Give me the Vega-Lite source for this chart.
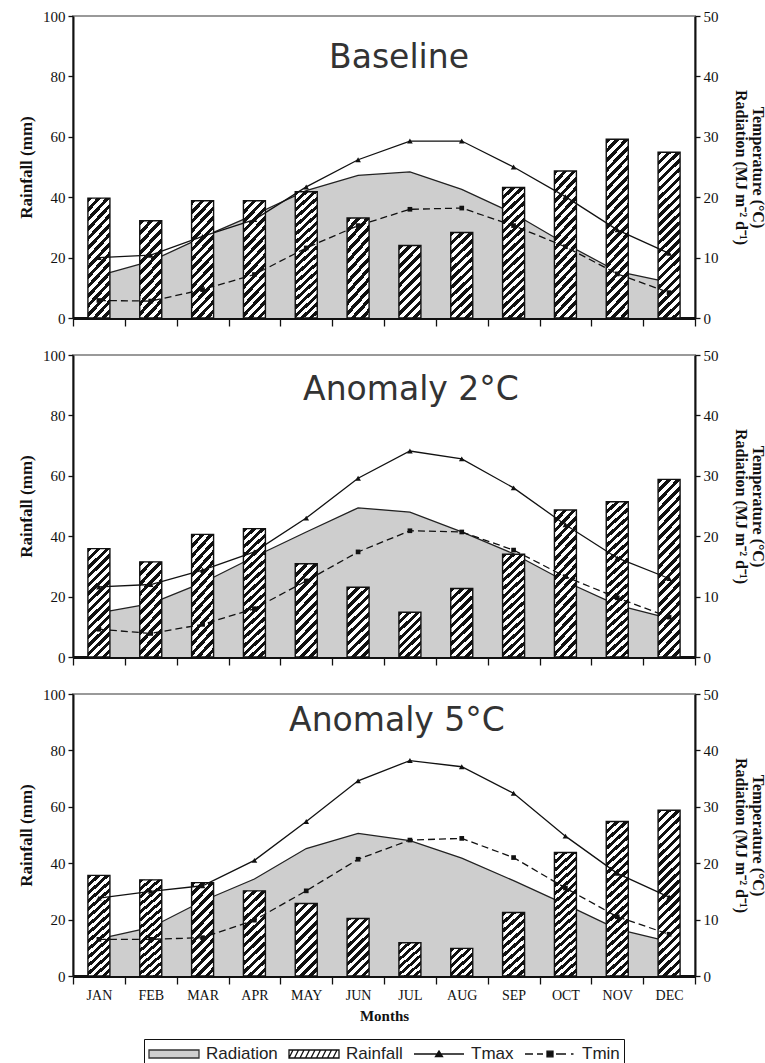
{
"$schema":"https://vega.github.io/schema/vega-lite/v6.json",
"padding":{"left":16,"top":8,"right":0,"bottom":0},
"background":"white",
"params":[
 {"name":"h10","value":{"gradient":"linear","x1":0,"y1":0,"x2":0.8266,"y2":1.127,"stops":[{"offset":0,"color":"#111"},{"offset":0.0833,"color":"#111"},{"offset":0.0833,"color":"#fff"},{"offset":0.1667,"color":"#fff"},{"offset":0.1667,"color":"#111"},{"offset":0.25,"color":"#111"},{"offset":0.25,"color":"#fff"},{"offset":0.3333,"color":"#fff"},{"offset":0.3333,"color":"#111"},{"offset":0.4167,"color":"#111"},{"offset":0.4167,"color":"#fff"},{"offset":0.5,"color":"#fff"},{"offset":0.5,"color":"#111"},{"offset":0.5833,"color":"#111"},{"offset":0.5833,"color":"#fff"},{"offset":0.6667,"color":"#fff"},{"offset":0.6667,"color":"#111"},{"offset":0.75,"color":"#111"},{"offset":0.75,"color":"#fff"},{"offset":0.8333,"color":"#fff"},{"offset":0.8333,"color":"#111"},{"offset":0.9167,"color":"#111"},{"offset":0.9167,"color":"#fff"},{"offset":1,"color":"#fff"}]}},
 {"name":"h12","value":{"gradient":"linear","x1":0,"y1":0,"x2":0.6926,"y2":1.1806,"stops":[{"offset":0,"color":"#111"},{"offset":0.0714,"color":"#111"},{"offset":0.0714,"color":"#fff"},{"offset":0.1429,"color":"#fff"},{"offset":0.1429,"color":"#111"},{"offset":0.2143,"color":"#111"},{"offset":0.2143,"color":"#fff"},{"offset":0.2857,"color":"#fff"},{"offset":0.2857,"color":"#111"},{"offset":0.3571,"color":"#111"},{"offset":0.3571,"color":"#fff"},{"offset":0.4286,"color":"#fff"},{"offset":0.4286,"color":"#111"},{"offset":0.5,"color":"#111"},{"offset":0.5,"color":"#fff"},{"offset":0.5714,"color":"#fff"},{"offset":0.5714,"color":"#111"},{"offset":0.6429,"color":"#111"},{"offset":0.6429,"color":"#fff"},{"offset":0.7143,"color":"#fff"},{"offset":0.7143,"color":"#111"},{"offset":0.7857,"color":"#111"},{"offset":0.7857,"color":"#fff"},{"offset":0.8571,"color":"#fff"},{"offset":0.8571,"color":"#111"},{"offset":0.9286,"color":"#111"},{"offset":0.9286,"color":"#fff"},{"offset":1,"color":"#fff"}]}},
 {"name":"h15","value":{"gradient":"linear","x1":0,"y1":0,"x2":0.5695,"y2":1.2038,"stops":[{"offset":0,"color":"#111"},{"offset":0.0625,"color":"#111"},{"offset":0.0625,"color":"#fff"},{"offset":0.125,"color":"#fff"},{"offset":0.125,"color":"#111"},{"offset":0.1875,"color":"#111"},{"offset":0.1875,"color":"#fff"},{"offset":0.25,"color":"#fff"},{"offset":0.25,"color":"#111"},{"offset":0.3125,"color":"#111"},{"offset":0.3125,"color":"#fff"},{"offset":0.375,"color":"#fff"},{"offset":0.375,"color":"#111"},{"offset":0.4375,"color":"#111"},{"offset":0.4375,"color":"#fff"},{"offset":0.5,"color":"#fff"},{"offset":0.5,"color":"#111"},{"offset":0.5625,"color":"#111"},{"offset":0.5625,"color":"#fff"},{"offset":0.625,"color":"#fff"},{"offset":0.625,"color":"#111"},{"offset":0.6875,"color":"#111"},{"offset":0.6875,"color":"#fff"},{"offset":0.75,"color":"#fff"},{"offset":0.75,"color":"#111"},{"offset":0.8125,"color":"#111"},{"offset":0.8125,"color":"#fff"},{"offset":0.875,"color":"#fff"},{"offset":0.875,"color":"#111"},{"offset":0.9375,"color":"#111"},{"offset":0.9375,"color":"#fff"},{"offset":1,"color":"#fff"}]}},
 {"name":"h19","value":{"gradient":"linear","x1":0,"y1":0,"x2":0.4534,"y2":1.2056,"stops":[{"offset":0,"color":"#111"},{"offset":0.0556,"color":"#111"},{"offset":0.0556,"color":"#fff"},{"offset":0.1111,"color":"#fff"},{"offset":0.1111,"color":"#111"},{"offset":0.1667,"color":"#111"},{"offset":0.1667,"color":"#fff"},{"offset":0.2222,"color":"#fff"},{"offset":0.2222,"color":"#111"},{"offset":0.2778,"color":"#111"},{"offset":0.2778,"color":"#fff"},{"offset":0.3333,"color":"#fff"},{"offset":0.3333,"color":"#111"},{"offset":0.3889,"color":"#111"},{"offset":0.3889,"color":"#fff"},{"offset":0.4444,"color":"#fff"},{"offset":0.4444,"color":"#111"},{"offset":0.5,"color":"#111"},{"offset":0.5,"color":"#fff"},{"offset":0.5556,"color":"#fff"},{"offset":0.5556,"color":"#111"},{"offset":0.6111,"color":"#111"},{"offset":0.6111,"color":"#fff"},{"offset":0.6667,"color":"#fff"},{"offset":0.6667,"color":"#111"},{"offset":0.7222,"color":"#111"},{"offset":0.7222,"color":"#fff"},{"offset":0.7778,"color":"#fff"},{"offset":0.7778,"color":"#111"},{"offset":0.8333,"color":"#111"},{"offset":0.8333,"color":"#fff"},{"offset":0.8889,"color":"#fff"},{"offset":0.8889,"color":"#111"},{"offset":0.9444,"color":"#111"},{"offset":0.9444,"color":"#fff"},{"offset":1,"color":"#fff"}]}},
 {"name":"h24","value":{"gradient":"linear","x1":0,"y1":0,"x2":0.3649,"y2":1.1941,"stops":[{"offset":0,"color":"#111"},{"offset":0.05,"color":"#111"},{"offset":0.05,"color":"#fff"},{"offset":0.1,"color":"#fff"},{"offset":0.1,"color":"#111"},{"offset":0.15,"color":"#111"},{"offset":0.15,"color":"#fff"},{"offset":0.2,"color":"#fff"},{"offset":0.2,"color":"#111"},{"offset":0.25,"color":"#111"},{"offset":0.25,"color":"#fff"},{"offset":0.3,"color":"#fff"},{"offset":0.3,"color":"#111"},{"offset":0.35,"color":"#111"},{"offset":0.35,"color":"#fff"},{"offset":0.4,"color":"#fff"},{"offset":0.4,"color":"#111"},{"offset":0.45,"color":"#111"},{"offset":0.45,"color":"#fff"},{"offset":0.5,"color":"#fff"},{"offset":0.5,"color":"#111"},{"offset":0.55,"color":"#111"},{"offset":0.55,"color":"#fff"},{"offset":0.6,"color":"#fff"},{"offset":0.6,"color":"#111"},{"offset":0.65,"color":"#111"},{"offset":0.65,"color":"#fff"},{"offset":0.7,"color":"#fff"},{"offset":0.7,"color":"#111"},{"offset":0.75,"color":"#111"},{"offset":0.75,"color":"#fff"},{"offset":0.8,"color":"#fff"},{"offset":0.8,"color":"#111"},{"offset":0.85,"color":"#111"},{"offset":0.85,"color":"#fff"},{"offset":0.9,"color":"#fff"},{"offset":0.9,"color":"#111"},{"offset":0.95,"color":"#111"},{"offset":0.95,"color":"#fff"},{"offset":1,"color":"#fff"}]}},
 {"name":"h30","value":{"gradient":"linear","x1":0,"y1":0,"x2":0.287,"y2":1.1743,"stops":[{"offset":0,"color":"#111"},{"offset":0.0417,"color":"#111"},{"offset":0.0417,"color":"#fff"},{"offset":0.0833,"color":"#fff"},{"offset":0.0833,"color":"#111"},{"offset":0.125,"color":"#111"},{"offset":0.125,"color":"#fff"},{"offset":0.1667,"color":"#fff"},{"offset":0.1667,"color":"#111"},{"offset":0.2083,"color":"#111"},{"offset":0.2083,"color":"#fff"},{"offset":0.25,"color":"#fff"},{"offset":0.25,"color":"#111"},{"offset":0.2917,"color":"#111"},{"offset":0.2917,"color":"#fff"},{"offset":0.3333,"color":"#fff"},{"offset":0.3333,"color":"#111"},{"offset":0.375,"color":"#111"},{"offset":0.375,"color":"#fff"},{"offset":0.4167,"color":"#fff"},{"offset":0.4167,"color":"#111"},{"offset":0.4583,"color":"#111"},{"offset":0.4583,"color":"#fff"},{"offset":0.5,"color":"#fff"},{"offset":0.5,"color":"#111"},{"offset":0.5417,"color":"#111"},{"offset":0.5417,"color":"#fff"},{"offset":0.5833,"color":"#fff"},{"offset":0.5833,"color":"#111"},{"offset":0.625,"color":"#111"},{"offset":0.625,"color":"#fff"},{"offset":0.6667,"color":"#fff"},{"offset":0.6667,"color":"#111"},{"offset":0.7083,"color":"#111"},{"offset":0.7083,"color":"#fff"},{"offset":0.75,"color":"#fff"},{"offset":0.75,"color":"#111"},{"offset":0.7917,"color":"#111"},{"offset":0.7917,"color":"#fff"},{"offset":0.8333,"color":"#fff"},{"offset":0.8333,"color":"#111"},{"offset":0.875,"color":"#111"},{"offset":0.875,"color":"#fff"},{"offset":0.9167,"color":"#fff"},{"offset":0.9167,"color":"#111"},{"offset":0.9583,"color":"#111"},{"offset":0.9583,"color":"#fff"},{"offset":1,"color":"#fff"}]}},
 {"name":"h37","value":{"gradient":"linear","x1":0,"y1":0,"x2":0.2285,"y2":1.1529,"stops":[{"offset":0,"color":"#111"},{"offset":0.0333,"color":"#111"},{"offset":0.0333,"color":"#fff"},{"offset":0.0667,"color":"#fff"},{"offset":0.0667,"color":"#111"},{"offset":0.1,"color":"#111"},{"offset":0.1,"color":"#fff"},{"offset":0.1333,"color":"#fff"},{"offset":0.1333,"color":"#111"},{"offset":0.1667,"color":"#111"},{"offset":0.1667,"color":"#fff"},{"offset":0.2,"color":"#fff"},{"offset":0.2,"color":"#111"},{"offset":0.2333,"color":"#111"},{"offset":0.2333,"color":"#fff"},{"offset":0.2667,"color":"#fff"},{"offset":0.2667,"color":"#111"},{"offset":0.3,"color":"#111"},{"offset":0.3,"color":"#fff"},{"offset":0.3333,"color":"#fff"},{"offset":0.3333,"color":"#111"},{"offset":0.3667,"color":"#111"},{"offset":0.3667,"color":"#fff"},{"offset":0.4,"color":"#fff"},{"offset":0.4,"color":"#111"},{"offset":0.4333,"color":"#111"},{"offset":0.4333,"color":"#fff"},{"offset":0.4667,"color":"#fff"},{"offset":0.4667,"color":"#111"},{"offset":0.5,"color":"#111"},{"offset":0.5,"color":"#fff"},{"offset":0.5333,"color":"#fff"},{"offset":0.5333,"color":"#111"},{"offset":0.5667,"color":"#111"},{"offset":0.5667,"color":"#fff"},{"offset":0.6,"color":"#fff"},{"offset":0.6,"color":"#111"},{"offset":0.6333,"color":"#111"},{"offset":0.6333,"color":"#fff"},{"offset":0.6667,"color":"#fff"},{"offset":0.6667,"color":"#111"},{"offset":0.7,"color":"#111"},{"offset":0.7,"color":"#fff"},{"offset":0.7333,"color":"#fff"},{"offset":0.7333,"color":"#111"},{"offset":0.7667,"color":"#111"},{"offset":0.7667,"color":"#fff"},{"offset":0.8,"color":"#fff"},{"offset":0.8,"color":"#111"},{"offset":0.8333,"color":"#111"},{"offset":0.8333,"color":"#fff"},{"offset":0.8667,"color":"#fff"},{"offset":0.8667,"color":"#111"},{"offset":0.9,"color":"#111"},{"offset":0.9,"color":"#fff"},{"offset":0.9333,"color":"#fff"},{"offset":0.9333,"color":"#111"},{"offset":0.9667,"color":"#111"},{"offset":0.9667,"color":"#fff"},{"offset":1,"color":"#fff"}]}},
 {"name":"h46","value":{"gradient":"linear","x1":0,"y1":0,"x2":0.1802,"y2":1.1307,"stops":[{"offset":0,"color":"#111"},{"offset":0.0278,"color":"#111"},{"offset":0.0278,"color":"#fff"},{"offset":0.0556,"color":"#fff"},{"offset":0.0556,"color":"#111"},{"offset":0.0833,"color":"#111"},{"offset":0.0833,"color":"#fff"},{"offset":0.1111,"color":"#fff"},{"offset":0.1111,"color":"#111"},{"offset":0.1389,"color":"#111"},{"offset":0.1389,"color":"#fff"},{"offset":0.1667,"color":"#fff"},{"offset":0.1667,"color":"#111"},{"offset":0.1944,"color":"#111"},{"offset":0.1944,"color":"#fff"},{"offset":0.2222,"color":"#fff"},{"offset":0.2222,"color":"#111"},{"offset":0.25,"color":"#111"},{"offset":0.25,"color":"#fff"},{"offset":0.2778,"color":"#fff"},{"offset":0.2778,"color":"#111"},{"offset":0.3056,"color":"#111"},{"offset":0.3056,"color":"#fff"},{"offset":0.3333,"color":"#fff"},{"offset":0.3333,"color":"#111"},{"offset":0.3611,"color":"#111"},{"offset":0.3611,"color":"#fff"},{"offset":0.3889,"color":"#fff"},{"offset":0.3889,"color":"#111"},{"offset":0.4167,"color":"#111"},{"offset":0.4167,"color":"#fff"},{"offset":0.4444,"color":"#fff"},{"offset":0.4444,"color":"#111"},{"offset":0.4722,"color":"#111"},{"offset":0.4722,"color":"#fff"},{"offset":0.5,"color":"#fff"},{"offset":0.5,"color":"#111"},{"offset":0.5278,"color":"#111"},{"offset":0.5278,"color":"#fff"},{"offset":0.5556,"color":"#fff"},{"offset":0.5556,"color":"#111"},{"offset":0.5833,"color":"#111"},{"offset":0.5833,"color":"#fff"},{"offset":0.6111,"color":"#fff"},{"offset":0.6111,"color":"#111"},{"offset":0.6389,"color":"#111"},{"offset":0.6389,"color":"#fff"},{"offset":0.6667,"color":"#fff"},{"offset":0.6667,"color":"#111"},{"offset":0.6944,"color":"#111"},{"offset":0.6944,"color":"#fff"},{"offset":0.7222,"color":"#fff"},{"offset":0.7222,"color":"#111"},{"offset":0.75,"color":"#111"},{"offset":0.75,"color":"#fff"},{"offset":0.7778,"color":"#fff"},{"offset":0.7778,"color":"#111"},{"offset":0.8056,"color":"#111"},{"offset":0.8056,"color":"#fff"},{"offset":0.8333,"color":"#fff"},{"offset":0.8333,"color":"#111"},{"offset":0.8611,"color":"#111"},{"offset":0.8611,"color":"#fff"},{"offset":0.8889,"color":"#fff"},{"offset":0.8889,"color":"#111"},{"offset":0.9167,"color":"#111"},{"offset":0.9167,"color":"#fff"},{"offset":0.9444,"color":"#fff"},{"offset":0.9444,"color":"#111"},{"offset":0.9722,"color":"#111"},{"offset":0.9722,"color":"#fff"},{"offset":1,"color":"#fff"}]}},
 {"name":"h57","value":{"gradient":"linear","x1":0,"y1":0,"x2":0.1428,"y2":1.1103,"stops":[{"offset":0,"color":"#111"},{"offset":0.0238,"color":"#111"},{"offset":0.0238,"color":"#fff"},{"offset":0.0476,"color":"#fff"},{"offset":0.0476,"color":"#111"},{"offset":0.0714,"color":"#111"},{"offset":0.0714,"color":"#fff"},{"offset":0.0952,"color":"#fff"},{"offset":0.0952,"color":"#111"},{"offset":0.119,"color":"#111"},{"offset":0.119,"color":"#fff"},{"offset":0.1429,"color":"#fff"},{"offset":0.1429,"color":"#111"},{"offset":0.1667,"color":"#111"},{"offset":0.1667,"color":"#fff"},{"offset":0.1905,"color":"#fff"},{"offset":0.1905,"color":"#111"},{"offset":0.2143,"color":"#111"},{"offset":0.2143,"color":"#fff"},{"offset":0.2381,"color":"#fff"},{"offset":0.2381,"color":"#111"},{"offset":0.2619,"color":"#111"},{"offset":0.2619,"color":"#fff"},{"offset":0.2857,"color":"#fff"},{"offset":0.2857,"color":"#111"},{"offset":0.3095,"color":"#111"},{"offset":0.3095,"color":"#fff"},{"offset":0.3333,"color":"#fff"},{"offset":0.3333,"color":"#111"},{"offset":0.3571,"color":"#111"},{"offset":0.3571,"color":"#fff"},{"offset":0.381,"color":"#fff"},{"offset":0.381,"color":"#111"},{"offset":0.4048,"color":"#111"},{"offset":0.4048,"color":"#fff"},{"offset":0.4286,"color":"#fff"},{"offset":0.4286,"color":"#111"},{"offset":0.4524,"color":"#111"},{"offset":0.4524,"color":"#fff"},{"offset":0.4762,"color":"#fff"},{"offset":0.4762,"color":"#111"},{"offset":0.5,"color":"#111"},{"offset":0.5,"color":"#fff"},{"offset":0.5238,"color":"#fff"},{"offset":0.5238,"color":"#111"},{"offset":0.5476,"color":"#111"},{"offset":0.5476,"color":"#fff"},{"offset":0.5714,"color":"#fff"},{"offset":0.5714,"color":"#111"},{"offset":0.5952,"color":"#111"},{"offset":0.5952,"color":"#fff"},{"offset":0.619,"color":"#fff"},{"offset":0.619,"color":"#111"},{"offset":0.6429,"color":"#111"},{"offset":0.6429,"color":"#fff"},{"offset":0.6667,"color":"#fff"},{"offset":0.6667,"color":"#111"},{"offset":0.6905,"color":"#111"},{"offset":0.6905,"color":"#fff"},{"offset":0.7143,"color":"#fff"},{"offset":0.7143,"color":"#111"},{"offset":0.7381,"color":"#111"},{"offset":0.7381,"color":"#fff"},{"offset":0.7619,"color":"#fff"},{"offset":0.7619,"color":"#111"},{"offset":0.7857,"color":"#111"},{"offset":0.7857,"color":"#fff"},{"offset":0.8095,"color":"#fff"},{"offset":0.8095,"color":"#111"},{"offset":0.8333,"color":"#111"},{"offset":0.8333,"color":"#fff"},{"offset":0.8571,"color":"#fff"},{"offset":0.8571,"color":"#111"},{"offset":0.881,"color":"#111"},{"offset":0.881,"color":"#fff"},{"offset":0.9048,"color":"#fff"},{"offset":0.9048,"color":"#111"},{"offset":0.9286,"color":"#111"},{"offset":0.9286,"color":"#fff"},{"offset":0.9524,"color":"#fff"},{"offset":0.9524,"color":"#111"},{"offset":0.9762,"color":"#111"},{"offset":0.9762,"color":"#fff"},{"offset":1,"color":"#fff"}]}}
],
"datasets":{"d":[
{"s":"B","m":"JAN","rain":39.7,"rad":7.0,"tmax":10.0,"tmin":2.9},
{"s":"B","m":"FEB","rain":32.2,"rad":9.4,"tmax":10.4,"tmin":2.8},
{"s":"B","m":"MAR","rain":38.8,"rad":13.4,"tmax":13.5,"tmin":4.7},
{"s":"B","m":"APR","rain":38.8,"rad":17.1,"tmax":16.3,"tmin":7.2},
{"s":"B","m":"MAY","rain":41.8,"rad":21.1,"tmax":21.7,"tmin":11.6},
{"s":"B","m":"JUN","rain":33.1,"rad":23.6,"tmax":26.2,"tmin":15.3},
{"s":"B","m":"JUL","rain":24.0,"rad":24.2,"tmax":29.3,"tmin":18.0},
{"s":"B","m":"AUG","rain":28.3,"rad":21.3,"tmax":29.3,"tmin":18.2},
{"s":"B","m":"SEP","rain":43.2,"rad":17.3,"tmax":25.0,"tmin":15.3},
{"s":"B","m":"OCT","rain":48.7,"rad":12.3,"tmax":20.1,"tmin":11.8},
{"s":"B","m":"NOV","rain":59.2,"rad":7.7,"tmax":14.6,"tmin":7.3},
{"s":"B","m":"DEC","rain":54.9,"rad":5.9,"tmax":10.7,"tmin":4.2},
{"s":"A2","m":"JAN","rain":35.9,"rad":7.3,"tmax":11.6,"tmin":4.6},
{"s":"A2","m":"FEB","rain":31.5,"rad":8.85,"tmax":12.0,"tmin":3.9},
{"s":"A2","m":"MAR","rain":40.6,"rad":12.3,"tmax":14.4,"tmin":5.4},
{"s":"A2","m":"APR","rain":42.5,"rad":16.6,"tmax":17.4,"tmin":8.0},
{"s":"A2","m":"MAY","rain":30.9,"rad":20.7,"tmax":23.0,"tmin":12.6},
{"s":"A2","m":"JUN","rain":23.1,"rad":24.7,"tmax":29.6,"tmin":17.4},
{"s":"A2","m":"JUL","rain":14.8,"rad":24.0,"tmax":34.1,"tmin":20.9},
{"s":"A2","m":"AUG","rain":22.7,"rad":20.7,"tmax":32.8,"tmin":20.7},
{"s":"A2","m":"SEP","rain":34.0,"rad":17.1,"tmax":28.0,"tmin":17.7},
{"s":"A2","m":"OCT","rain":48.7,"rad":12.5,"tmax":21.9,"tmin":13.3},
{"s":"A2","m":"NOV","rain":51.4,"rad":8.6,"tmax":16.4,"tmin":9.8},
{"s":"A2","m":"DEC","rain":58.8,"rad":6.4,"tmax":13.0,"tmin":6.6},
{"s":"A5","m":"JAN","rain":35.7,"rad":6.6,"tmax":13.8,"tmin":6.5},
{"s":"A5","m":"FEB","rain":34.1,"rad":8.6,"tmax":15.0,"tmin":6.5},
{"s":"A5","m":"MAR","rain":33.1,"rad":13.3,"tmax":16.0,"tmin":6.8},
{"s":"A5","m":"APR","rain":30.2,"rad":17.2,"tmax":20.5,"tmin":9.9},
{"s":"A5","m":"MAY","rain":25.7,"rad":22.6,"tmax":27.4,"tmin":15.1},
{"s":"A5","m":"JUN","rain":20.4,"rad":25.3,"tmax":34.6,"tmin":20.7},
{"s":"A5","m":"JUL","rain":11.8,"rad":24.0,"tmax":38.2,"tmin":24.1},
{"s":"A5","m":"AUG","rain":9.8,"rad":20.9,"tmax":37.1,"tmin":24.4},
{"s":"A5","m":"SEP","rain":22.5,"rad":16.9,"tmax":32.4,"tmin":21.0},
{"s":"A5","m":"OCT","rain":43.8,"rad":12.7,"tmax":24.8,"tmin":15.6},
{"s":"A5","m":"NOV","rain":54.8,"rad":8.3,"tmax":18.2,"tmin":10.5},
{"s":"A5","m":"DEC","rain":58.8,"rad":6.1,"tmax":14.0,"tmin":7.4}
]},
"data":{"name":"d"},
"spacing":19,
"vconcat":[
{"width":622,"height":302,
 "title":{"text":"Baseline","offset":-92,"dx":15,"anchor":"middle","frame":"group","font":"DejaVu Sans","fontSize":33,"fontWeight":"normal","color":"#333","baseline":"alphabetic"},
 "transform":[{"filter":"datum.s==='B'"}],
 "layer":[
  {"mark":{"type":"area","fill":"#cecece","opacity":1,"line":{"stroke":"#222","strokeWidth":1.3}},
   "encoding":{"x":{"field":"m","type":"nominal","bandPosition":0.5,"scale":{"type":"band","domain":["JAN","FEB","MAR","APR","MAY","JUN","JUL","AUG","SEP","OCT","NOV","DEC"],"paddingInner":0,"paddingOuter":0},"axis":{"labels":false,"title":null}},
   "y":{"field":"rad","type":"quantitative","scale":{"domain":[0,50]},"axis":{"orient":"right","values":[0,10,20,30,40,50],"title":["Temperature (°C)","Radiation (MJ m⁻² d⁻¹)"],"titleAngle":90,"titleFontSize":16,"titleLineHeight":17,"titlePadding":14}}}},
  {"mark":{"type":"bar","width":22,"stroke":"#111","strokeWidth":1.4,"fill":{"expr":"datum.rain<11.2?h10:datum.rain<13.9?h12:datum.rain<17.4?h15:datum.rain<21.6?h19:datum.rain<26.8?h24:datum.rain<33.3?h30:datum.rain<41.3?h37:datum.rain<51.2?h46:h57"}},
   "encoding":{"x":{"field":"m","type":"nominal","scale":{"type":"band","domain":["JAN","FEB","MAR","APR","MAY","JUN","JUL","AUG","SEP","OCT","NOV","DEC"],"paddingInner":0,"paddingOuter":0},"axis":{"labels":false,"title":null}},"y":{"field":"rain","type":"quantitative","scale":{"domain":[0,100]},"axis":{"orient":"left","values":[0,20,40,60,80,100],"title":"Rainfall (mm)","titleFontSize":17,"titlePadding":7}}}},
  {"mark":{"type":"line","stroke":"#111","strokeWidth":1.3,"point":{"shape":"triangle-up","size":32,"filled":true,"fill":"#111"}},"encoding":{"x":{"field":"m","type":"nominal","bandPosition":0.5,"scale":{"type":"band","domain":["JAN","FEB","MAR","APR","MAY","JUN","JUL","AUG","SEP","OCT","NOV","DEC"],"paddingInner":0,"paddingOuter":0},"axis":{"labels":false,"title":null}},"y":{"field":"tmax","type":"quantitative","scale":{"domain":[0,50]},"axis":null}}},
  {"mark":{"type":"line","stroke":"#111","strokeWidth":1.3,"strokeDash":[7,4],"point":{"shape":"square","size":22,"filled":true,"fill":"#111"}},"encoding":{"x":{"field":"m","type":"nominal","bandPosition":0.5,"scale":{"type":"band","domain":["JAN","FEB","MAR","APR","MAY","JUN","JUL","AUG","SEP","OCT","NOV","DEC"],"paddingInner":0,"paddingOuter":0},"axis":{"labels":false,"title":null}},"y":{"field":"tmin","type":"quantitative","scale":{"domain":[0,50]},"axis":null}}}
 ],
 "resolve":{"scale":{"y":"independent"}}
},
{"width":622,"height":302,
 "title":{"text":"Anomaly 2°C","offset":-85,"dx":27,"anchor":"middle","frame":"group","font":"DejaVu Sans","fontSize":33,"fontWeight":"normal","color":"#333","baseline":"alphabetic"},
 "transform":[{"filter":"datum.s==='A2'"}],
 "layer":[
  {"mark":{"type":"area","fill":"#cecece","opacity":1,"line":{"stroke":"#222","strokeWidth":1.3}},
   "encoding":{"x":{"field":"m","type":"nominal","bandPosition":0.5,"scale":{"type":"band","domain":["JAN","FEB","MAR","APR","MAY","JUN","JUL","AUG","SEP","OCT","NOV","DEC"],"paddingInner":0,"paddingOuter":0},"axis":{"labels":false,"title":null}},
   "y":{"field":"rad","type":"quantitative","scale":{"domain":[0,50]},"axis":{"orient":"right","values":[0,10,20,30,40,50],"title":["Temperature (°C)","Radiation (MJ m⁻² d⁻¹)"],"titleAngle":90,"titleFontSize":16,"titleLineHeight":17,"titlePadding":14}}}},
  {"mark":{"type":"bar","width":22,"stroke":"#111","strokeWidth":1.4,"fill":{"expr":"datum.rain<11.2?h10:datum.rain<13.9?h12:datum.rain<17.4?h15:datum.rain<21.6?h19:datum.rain<26.8?h24:datum.rain<33.3?h30:datum.rain<41.3?h37:datum.rain<51.2?h46:h57"}},
   "encoding":{"x":{"field":"m","type":"nominal","scale":{"type":"band","domain":["JAN","FEB","MAR","APR","MAY","JUN","JUL","AUG","SEP","OCT","NOV","DEC"],"paddingInner":0,"paddingOuter":0},"axis":{"labels":false,"title":null}},"y":{"field":"rain","type":"quantitative","scale":{"domain":[0,100]},"axis":{"orient":"left","values":[0,20,40,60,80,100],"title":"Rainfall (mm)","titleFontSize":17,"titlePadding":7}}}},
  {"mark":{"type":"line","stroke":"#111","strokeWidth":1.3,"point":{"shape":"triangle-up","size":32,"filled":true,"fill":"#111"}},"encoding":{"x":{"field":"m","type":"nominal","bandPosition":0.5,"scale":{"type":"band","domain":["JAN","FEB","MAR","APR","MAY","JUN","JUL","AUG","SEP","OCT","NOV","DEC"],"paddingInner":0,"paddingOuter":0},"axis":{"labels":false,"title":null}},"y":{"field":"tmax","type":"quantitative","scale":{"domain":[0,50]},"axis":null}}},
  {"mark":{"type":"line","stroke":"#111","strokeWidth":1.3,"strokeDash":[7,4],"point":{"shape":"square","size":22,"filled":true,"fill":"#111"}},"encoding":{"x":{"field":"m","type":"nominal","bandPosition":0.5,"scale":{"type":"band","domain":["JAN","FEB","MAR","APR","MAY","JUN","JUL","AUG","SEP","OCT","NOV","DEC"],"paddingInner":0,"paddingOuter":0},"axis":{"labels":false,"title":null}},"y":{"field":"tmin","type":"quantitative","scale":{"domain":[0,50]},"axis":null}}}
 ],
 "resolve":{"scale":{"y":"independent"}}
},
{"width":622,"height":282,
 "title":{"text":"Anomaly 5°C","offset":-77,"dx":13,"anchor":"middle","frame":"group","font":"DejaVu Sans","fontSize":33,"fontWeight":"normal","color":"#333","baseline":"alphabetic"},
 "transform":[{"filter":"datum.s==='A5'"}],
 "layer":[
  {"mark":{"type":"area","fill":"#cecece","opacity":1,"line":{"stroke":"#222","strokeWidth":1.3}},
   "encoding":{"x":{"field":"m","type":"nominal","bandPosition":0.5,"scale":{"type":"band","domain":["JAN","FEB","MAR","APR","MAY","JUN","JUL","AUG","SEP","OCT","NOV","DEC"],"paddingInner":0,"paddingOuter":0},"axis":{"title":"Months"}},
   "y":{"field":"rad","type":"quantitative","scale":{"domain":[0,50]},"axis":{"orient":"right","values":[0,10,20,30,40,50],"title":["Temperature (°C)","Radiation (MJ m⁻² d⁻¹)"],"titleAngle":90,"titleFontSize":16,"titleLineHeight":17,"titlePadding":14}}}},
  {"mark":{"type":"bar","width":22,"stroke":"#111","strokeWidth":1.4,"fill":{"expr":"datum.rain<11.2?h10:datum.rain<13.9?h12:datum.rain<17.4?h15:datum.rain<21.6?h19:datum.rain<26.8?h24:datum.rain<33.3?h30:datum.rain<41.3?h37:datum.rain<51.2?h46:h57"}},
   "encoding":{"x":{"field":"m","type":"nominal","scale":{"type":"band","domain":["JAN","FEB","MAR","APR","MAY","JUN","JUL","AUG","SEP","OCT","NOV","DEC"],"paddingInner":0,"paddingOuter":0},"axis":{"title":"Months"}},"y":{"field":"rain","type":"quantitative","scale":{"domain":[0,100]},"axis":{"orient":"left","values":[0,20,40,60,80,100],"title":"Rainfall (mm)","titleFontSize":17,"titlePadding":7}}}},
  {"mark":{"type":"line","stroke":"#111","strokeWidth":1.3,"point":{"shape":"triangle-up","size":32,"filled":true,"fill":"#111"}},"encoding":{"x":{"field":"m","type":"nominal","bandPosition":0.5,"scale":{"type":"band","domain":["JAN","FEB","MAR","APR","MAY","JUN","JUL","AUG","SEP","OCT","NOV","DEC"],"paddingInner":0,"paddingOuter":0},"axis":{"title":"Months"}},"y":{"field":"tmax","type":"quantitative","scale":{"domain":[0,50]},"axis":null}}},
  {"mark":{"type":"line","stroke":"#111","strokeWidth":1.3,"strokeDash":[7,4],"point":{"shape":"square","size":22,"filled":true,"fill":"#111"}},"encoding":{"x":{"field":"m","type":"nominal","bandPosition":0.5,"scale":{"type":"band","domain":["JAN","FEB","MAR","APR","MAY","JUN","JUL","AUG","SEP","OCT","NOV","DEC"],"paddingInner":0,"paddingOuter":0},"axis":{"title":"Months"}},"y":{"field":"tmin","type":"quantitative","scale":{"domain":[0,50]},"axis":null}}},
  {"transform":[{"filter":"false"}],"mark":{"type":"point","filled":true,"opacity":1,"strokeWidth":1.3},
   "encoding":{
    "shape":{"field":"series","type":"nominal","scale":{"domain":["Radiation","Rainfall","Tmax","Tmin"],"range":["M-1,-0.4H4V0.4H-1Z","M-1,-0.4H4V0.4H-1Z M-1,0.4L-0.6,-0.4 M-0.45,0.4L-0.05,-0.4 M0.1,0.4L0.5,-0.4 M0.65,0.4L1.05,-0.4 M1.2,0.4L1.6,-0.4 M1.75,0.4L2.15,-0.4 M2.3,0.4L2.7,-0.4 M2.85,0.4L3.25,-0.4 M3.4,0.4L3.8,-0.4","M-1,0H4 M1.15,0.25L1.5,-0.3L1.85,0.25Z","M-1,0H-0.2 M0.2,0H0.8 M1.2,-0.28H1.8V0.28H1.2Z M2.1,0H3.1 M3.6,0H3.85"]},"legend":{"title":null}},
    "color":{"field":"series","type":"nominal","scale":{"domain":["Radiation","Rainfall","Tmax","Tmin"],"range":["#cecece","#ffffff","#111111","#111111"]},"legend":{"title":null}},
    "stroke":{"field":"series","type":"nominal","scale":{"domain":["Radiation","Rainfall","Tmax","Tmin"],"range":["#333333","#111111","#111111","#111111"]},"legend":{"title":null}}}}
 ],
 "resolve":{"scale":{"y":"independent"}}
}
],
"config":{
 "view":{"stroke":"#999","strokeWidth":2},
 "axis":{"grid":false,"domainColor":"#111","domainWidth":2,"tickColor":"#111","tickWidth":1.3,"tickSize":5,"labelFont":"Liberation Serif","labelFontSize":15,"labelColor":"#111","labelPadding":3,"titleFont":"Liberation Serif","titleFontWeight":"bold","titleColor":"#111"},
 "axisX":{"domainWidth":3,"tickSize":8,"tickBand":"extent","labelFontSize":14,"labelPadding":4,"labelAngle":0,"titleFontSize":15,"titlePadding":6},
 "legend":{"orient":"bottom","direction":"horizontal","strokeColor":"#111","padding":4,"labelFont":"Liberation Sans","labelFontSize":17,"labelColor":"#222","symbolSize":400,"symbolStrokeWidth":1.3,"labelOffset":36,"columnPadding":8,"offset":15,"layout":{"bottom":{"anchor":"middle"}}}
}
}
